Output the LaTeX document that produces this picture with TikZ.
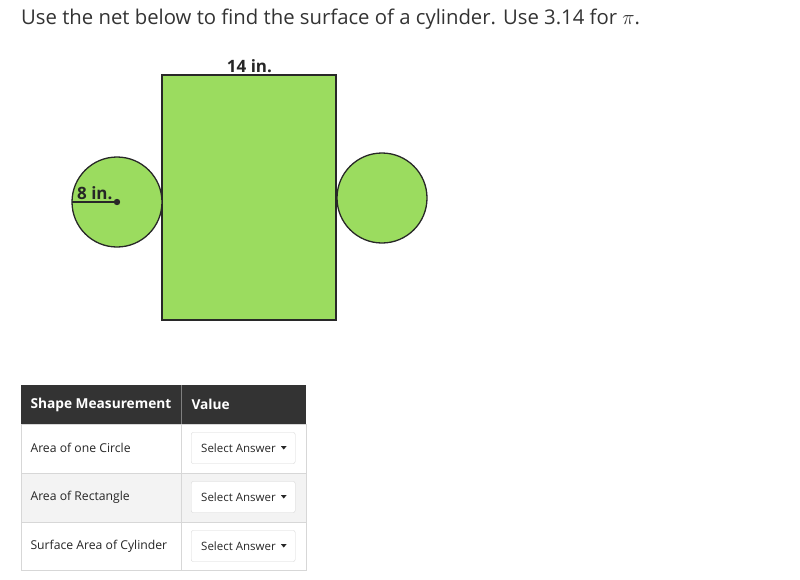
\documentclass[tikz,border=0pt]{standalone}
\usepackage{fontspec}
\setmainfont{Open Sans}
\definecolor{netgreen}{RGB}{155,220,95}
\definecolor{edge}{RGB}{40,40,40}
\definecolor{hdr}{RGB}{51,51,51}
\definecolor{rowgray}{RGB}{243,243,243}
\definecolor{gridc}{RGB}{215,215,215}
\begin{document}
\begin{tikzpicture}[x=1pt,y=-1pt,
  netpart/.style={fill=netgreen,draw=edge,line width=1.3pt},
  cell/.style={anchor=west,font=\fontsize{12.2}{15}\selectfont,text=black!85},
  btn/.style={draw=gridc,fill=white,rounded corners=2pt,minimum width=104pt,minimum height=31pt,inner sep=0pt},
  btntext/.style={anchor=west,inner sep=0pt,font=\fontsize{11.5}{14}\selectfont,text=black!85},
  dim/.style={font=\bfseries\fontsize{17}{19}\selectfont,text=black!85,inner sep=0pt}]
\useasboundingbox (0,0) rectangle (800,579);
\fill[white] (0,0) rectangle (800,579);
% title
\node[anchor=base west,inner sep=0pt,font=\fontsize{20.3}{24}\selectfont,text=black!80] (title) at (21,24) {Use the net below to find the surface of a cylinder. Use 3.14 for $\pi$.};
% net
\draw[netpart] (162,75) rectangle (336,320);
\node[inner sep=0pt] (rect) at (249,197.5) {};
\draw[netpart] (117,202) circle (45);
\draw[netpart] (382,198) circle (45);
\coordinate (lc) at (117,202);
\coordinate (le) at (72,202);
\draw[edge,line width=1.2pt] (le) -- (lc);
\fill[edge] (lc) circle (3.2);
\node[dim,anchor=base west] (r) at (77,199.5) {8 in.};
\node[dim,anchor=base] (w) at (249.5,72.5) {14 in.};
% table
\fill[hdr] (21,385) rectangle (306,424);
\fill[rowgray] (21,473) rectangle (306,522);
\draw[gridc,line width=0.8pt] (21,424) rectangle (306,570);
\draw[gridc,line width=0.8pt] (21,473) -- (306,473) (21,522) -- (306,522) (181,424) -- (181,570);
\draw[gray,line width=0.8pt] (181,385) -- (181,424);
\node[anchor=west,font=\bfseries\fontsize{13.7}{16}\selectfont,text=white] (h1) at (27,404.5) {Shape Measurement};
\node[anchor=west,font=\bfseries\fontsize{13.7}{16}\selectfont,text=white] (h2) at (188,404.5) {Value};
\node[cell] (c1) at (27,448) {Area of one Circle};
\node[cell] (c2) at (27,497) {Area of Rectangle};
\node[cell] (c3) at (27,546) {Surface Area of Cylinder};
\foreach \y/\n in {448/b1,497/b2,546/b3}{
  \node[btn,anchor=west] (\n) at (191,\y) {};
  \node[btntext] (\n t) at (201,\y) {Select Answer};
  \fill[black!85,shift={(\n.west)}] (90,-1.8) -- (95.5,-1.8) -- (92.75,1.5) -- cycle;
}
\end{tikzpicture}
\end{document}
